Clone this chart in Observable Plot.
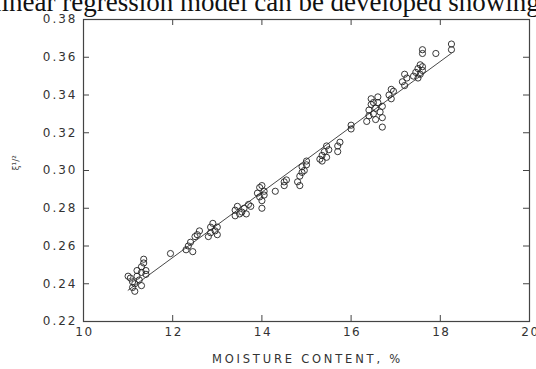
<!DOCTYPE html>
<html><head><meta charset="utf-8">
<script src="https://cdn.jsdelivr.net/npm/d3@7"></script>
<script src="https://cdn.jsdelivr.net/npm/@observablehq/plot@0.6"></script>
<style>
body{margin:0;background:#fff;width:536px;height:369px;overflow:hidden;position:relative}
#title{position:absolute;left:-6px;top:-13px;font-family:"Liberation Serif";font-size:27px;white-space:nowrap;color:#111}
#chart{position:absolute;left:0;top:0}
#chart svg{background:transparent}
g[aria-label="y-axis tick label"] text{letter-spacing:2px}
g[aria-label="x-axis tick label"] text{letter-spacing:1.5px}
g.xlab text{letter-spacing:2.8px}
</style></head><body>
<div id="title">linear regression model can be developed showing</div>
<div id="chart"></div>
<script>
const titleText = "linear regression model can be developed showing";
const xLabel = "MOISTURE CONTENT, %";
const yLabel = "ξ¹/²";
const xTicks = [10, 12, 14, 16, 18, 20];
const yTicks = [0.22, 0.24, 0.26, 0.28, 0.30, 0.32, 0.34, 0.36, 0.38];

// moisture content (%) of each sample
const moisture = [
  11.05, 11.10, 11.10, 11.15, 11.15, 11.20, 11.25, 11.30, 11.30, 11.30, 11.35, 11.35, 11.40, 11.40, 11.00, 11.20,
  11.95,
  12.30, 12.35, 12.40, 12.45, 12.50, 12.55, 12.60,
  12.80, 12.85, 12.85, 12.90, 12.95, 13.00, 13.00,
  13.40, 13.40, 13.45, 13.50, 13.55, 13.60, 13.65, 13.70, 13.75,
  13.90, 13.95, 13.95, 14.00, 14.00, 14.05, 14.05, 14.00,
  14.30,
  14.50, 14.55, 14.50,
  14.80, 14.85, 14.90, 14.90, 14.95, 15.00, 15.00, 14.85,
  15.30, 15.35, 15.35, 15.40, 15.45, 15.45, 15.50,
  15.70, 15.70, 15.75,
  16.00, 16.00,
  16.35, 16.40, 16.40, 16.45, 16.45, 16.50, 16.55, 16.55, 16.60, 16.60, 16.65, 16.70, 16.70, 16.70, 16.50,
  16.85, 16.90, 16.95, 16.90,
  17.15, 17.20, 17.20, 17.25,
  17.40, 17.45, 17.50, 17.50, 17.55, 17.60, 17.55, 17.60, 17.60, 17.60,
  17.90,
  18.25, 18.25
];
// measured xi^(1/2) of each sample
const xi = [
  0.243, 0.241, 0.238, 0.236, 0.240, 0.244, 0.242, 0.239, 0.246, 0.249, 0.251, 0.253, 0.247, 0.245, 0.244, 0.247,
  0.256,
  0.258, 0.260, 0.262, 0.257, 0.265, 0.266, 0.268,
  0.265, 0.267, 0.270, 0.272, 0.268, 0.266, 0.270,
  0.276, 0.279, 0.281, 0.277, 0.278, 0.280, 0.277, 0.282, 0.281,
  0.288, 0.291, 0.286, 0.284, 0.280, 0.289, 0.287, 0.292,
  0.289,
  0.292, 0.295, 0.294,
  0.294, 0.297, 0.299, 0.302, 0.300, 0.305, 0.303, 0.292,
  0.306, 0.308, 0.305, 0.310, 0.313, 0.307, 0.311,
  0.310, 0.313, 0.315,
  0.322, 0.324,
  0.326, 0.329, 0.332, 0.335, 0.338, 0.330, 0.327, 0.333, 0.336, 0.339, 0.331, 0.328, 0.334, 0.323, 0.336,
  0.340, 0.343, 0.342, 0.338,
  0.347, 0.351, 0.345, 0.349,
  0.350, 0.352, 0.354, 0.349, 0.356, 0.353, 0.351, 0.355, 0.364, 0.362,
  0.362,
  0.364, 0.367
];

const data = moisture.map((m, i) => ({m, v: xi[i]}));
document.getElementById("title").textContent = titleText;

const W = 536, H = 369, mL = 83, mR = 7, mT = 19, mB = 48;
const plotW = W - mL - mR, plotH = H - mT - mB, tk = 6;
const axisColor = "#444";

const chart = Plot.plot({
  width: W, height: H,
  marginLeft: mL, marginRight: mR, marginTop: mT, marginBottom: mB,
  style: {fontFamily: "DejaVu Sans", fontSize: "12px", background: "transparent", color: "#333"},
  x: {domain: [10, 20]},
  y: {domain: [0.22, 0.38]},
  marks: [
    Plot.frame({stroke: axisColor, strokeWidth: 1.2}),
    // inward ticks on all four sides
    Plot.tickX(xTicks.slice(1, -1), {x: d => d, stroke: axisColor, insetTop: plotH - tk}),
    Plot.tickX(xTicks.slice(1, -1), {x: d => d, stroke: axisColor, insetBottom: plotH - tk}),
    Plot.tickY(yTicks.slice(1, -1), {y: d => d, stroke: axisColor, insetRight: plotW - tk}),
    Plot.tickY(yTicks.slice(1, -1), {y: d => d, stroke: axisColor, insetLeft: plotW - tk}),
    Plot.axisX({ticks: xTicks, tickSize: 0, tickPadding: 6, label: null, dx: 1, tickFormat: d => String(d)}),
    Plot.axisY({ticks: yTicks, tickSize: 0, tickPadding: 6, label: null, tickFormat: d => d.toFixed(2)}),
    Plot.linearRegressionY(data, {x: "m", y: "v", ci: 0, stroke: "#333", strokeWidth: 0.9}),
    Plot.dot(data, {x: "m", y: "v", r: 3.1, stroke: "#222", strokeWidth: 0.9, fill: "none"}),
    Plot.text([xLabel], {frameAnchor: "bottom", dy: 41, dx: 1, fontSize: 11.5, fill: "#333", className: "xlab"}),
    Plot.text([yLabel], {frameAnchor: "left", dx: -67, rotate: -90, fontSize: 9, fill: "#444"})
  ]
});
document.getElementById("chart").appendChild(chart);
</script>
</body></html>
